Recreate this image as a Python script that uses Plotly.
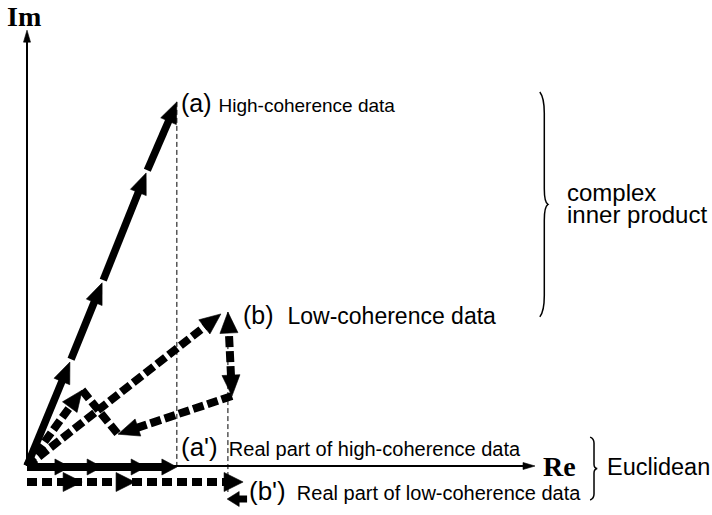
import numpy as np
import plotly.graph_objects as go

# ---------------- data (complex-plane units) ----------------
# (a) high-coherence data: cumulative phasor sum
re_a = [1.16, 2.03, 3.22, 4.05]
im_a = [2.81, 4.95, 7.92, 9.84]

# (b) low-coherence data: cumulative phasor sum
re_b = [1.49, 2.46, 5.54, 5.43]
im_b = [2.05, 0.86, 1.89, 4.16]

# resultant of (b) as drawn
re_b_res = 5.24
im_b_res = 4.11

# (b') real parts as drawn along the axis
re_b_proj = [1.49, 2.92, 5.84, 5.41]

# axis extents
re_axis_max = 13.73
im_axis_max = 11.78

# ---------------- layout constants ----------------
W, H = 712, 515
PX = 37.0            # pixels per unit (same on both axes)
OX, OY = 27, 466     # origin position in the picture (px)
XR = [-OX / PX, (W - OX) / PX]
YR = [-(H - OY) / PX, OY / PX]
UPX = 1.0 / PX       # units per pixel
INK = "#000000"
SANS = "Liberation Sans, Arial, sans-serif"
SERIF = "Liberation Serif, Times New Roman, serif"

ROW_A = -1 * UPX     # solid real-part row
ROW_B = -16 * UPX    # dashed real-part row
ROW_B2 = -33 * UPX   # small back arrow row

DASH = "11px,4px"

fig = go.Figure()


def tri(tip, u, L, Wd):
    """Filled arrowhead with its tip at `tip`, pointing along unit vector u."""
    tip = np.asarray(tip, float)
    u = np.asarray(u, float)
    n = np.array([-u[1], u[0]])
    base = tip - L * UPX * u
    p1 = base + 0.5 * Wd * UPX * n
    p2 = base - 0.5 * Wd * UPX * n
    fig.add_trace(go.Scatter(
        x=[tip[0], p1[0], p2[0], tip[0]], y=[tip[1], p1[1], p2[1], tip[1]],
        mode="lines", fill="toself", fillcolor=INK,
        line=dict(color=INK, width=0.6),
        hoverinfo="skip", showlegend=False))


def arrow(p0, p1, width=7, dash="solid", L=19, Wd=15, gap=0.0,
          head_start=False):
    p0 = np.asarray(p0, float)
    p1 = np.asarray(p1, float)
    d = p1 - p0
    u = d / np.hypot(*d)
    s = p0 + u * gap * UPX
    if head_start:
        s = s + u * (L - 2) * UPX
    e = p1 - u * (L - 3) * UPX if L else p1
    fig.add_trace(go.Scatter(
        x=[s[0], e[0]], y=[s[1], e[1]], mode="lines",
        line=dict(color=INK, width=width, dash=dash),
        hoverinfo="skip", showlegend=False))
    if L:
        tri(p1, u, L, Wd)
    if head_start:
        tri(p0, -u, L, Wd)


def thin(xs, ys):
    fig.add_trace(go.Scatter(x=xs, y=ys, mode="lines",
                             line=dict(color=INK, width=1, dash="5px,3px"),
                             hoverinfo="skip", showlegend=False))


# projection guides
thin([re_a[-1], re_a[-1]], [im_a[-1], 0])
thin([re_b[-1], re_b[-1]], [im_b[-1], ROW_B2 + 7 * UPX])

# axes
arrow((0, 0), (re_axis_max, 0), width=2, L=12, Wd=7)
arrow((0, 0), (0, im_axis_max), width=2, L=12, Wd=7)

# (a) chain
pts_a = [(0.0, 0.0)] + list(zip(re_a, im_a))
for i in range(len(re_a)):
    arrow(pts_a[i], pts_a[i + 1], width=7.5, L=21, Wd=17, gap=3 if i else 0)

# (b) chain
O = (0.0, 0.0)
A, B, C, D = list(zip(re_b, im_b))
arrow(O, A, width=8, dash=DASH, L=21, Wd=18)
arrow(A, B, width=8, dash=DASH, L=0)
arrow(C, B, width=8, dash=DASH, L=21, Wd=18)
arrow(C, D, width=8, dash=DASH, L=21, Wd=18, head_start=True)
arrow(O, (re_b_res, im_b_res), width=8, dash=DASH, L=21, Wd=18)

# (a') real parts
arrow((0, ROW_A), (re_a[-1], ROW_A), width=8, L=15, Wd=16)
for xr in re_a[:-1]:
    tri((xr, ROW_A), (1, 0), 15, 16)

# (b') real parts
arrow((0, ROW_B), (re_b_proj[2], ROW_B), width=8, dash="10px,5px",
      L=19, Wd=19)
for xr in re_b_proj[:2]:
    tri((xr, ROW_B), (1, 0), 19, 19)
arrow((re_b_proj[2] + 4 * UPX, ROW_B2), (re_b_proj[3], ROW_B2), width=7,
      L=12, Wd=15)


# braces
def brace(x, y_top, y_bot, w):
    mid = (y_top + y_bot) / 2
    h = (y_top - y_bot) / 2
    a = w * 0.55
    return (f"M{x},{y_top} Q{x + a},{y_top - 0.05 * h} {x + a},{y_top - 0.19 * h} "
            f"L{x + a},{mid + 0.14 * h} Q{x + a},{mid + 0.02 * h} {x + w},{mid} "
            f"Q{x + a},{mid - 0.02 * h} {x + a},{mid - 0.14 * h} "
            f"L{x + a},{y_bot + 0.19 * h} Q{x + a},{y_bot + 0.05 * h} {x},{y_bot}")


B1 = dict(x=13.86, top=10.11, bot=4.03, w=0.22)
B2 = dict(x=15.22, top=0.78, bot=-0.92, w=0.19)
shapes = []
for b in (B1, B2):
    shapes.append(dict(type="path", xref="x", yref="y",
                       path=brace(b["x"], b["top"], b["bot"], b["w"]),
                       line=dict(color=INK, width=1.5)))


def ann(text, x, y, xs, ys, size, family=SANS, xanchor="left"):
    return dict(text=text, x=x, y=y, xref="x", yref="y", xshift=xs, yshift=ys,
                showarrow=False, xanchor=xanchor, yanchor="middle",
                font=dict(family=family, size=size, color=INK))


b1_mid = (B1["top"] + B1["bot"]) / 2
b2_mid = (B2["top"] + B2["bot"]) / 2
annotations = [
    ann('<span style="font-size:25px">(a) </span>High-coherence data',
        re_a[-1], im_a[-1], 2, -1, 19),
    ann('<span style="font-size:25px">(b)  </span>Low-coherence data',
        re_b[-1], im_b[-1], 13, -2.5, 23),
    ann('<span style="font-size:26px">(a\')</span>  Real part of high-coherence data',
        re_a[-1], 0, 2, 19, 20),
    ann('<span style="font-size:26px">(b\')</span>  Real part of low-coherence data',
        re_b_proj[3], ROW_B2, 20, 8, 20),
    ann("complex", B1["x"] + B1["w"], b1_mid, 17, 11.5, 24),
    ann("inner product", B1["x"] + B1["w"], b1_mid, 17, -10.5, 24),
    ann("Euclidean", B2["x"] + B2["w"], b2_mid, 8, 1.5, 23.5),
    ann("<b>Re</b>", re_axis_max, 0, 6, 0, 28, SERIF),
    ann("<b>Im</b>", 0, im_axis_max, -3.5, 14, 28, SERIF, "center"),
]

fig.update_layout(
    width=W, height=H, margin=dict(l=0, r=0, t=0, b=0),
    paper_bgcolor="white", plot_bgcolor="white", showlegend=False,
    xaxis=dict(range=XR, visible=False, fixedrange=True),
    yaxis=dict(range=YR, visible=False, fixedrange=True),
    shapes=shapes, annotations=annotations,
)

fig.write_html("out.html")
